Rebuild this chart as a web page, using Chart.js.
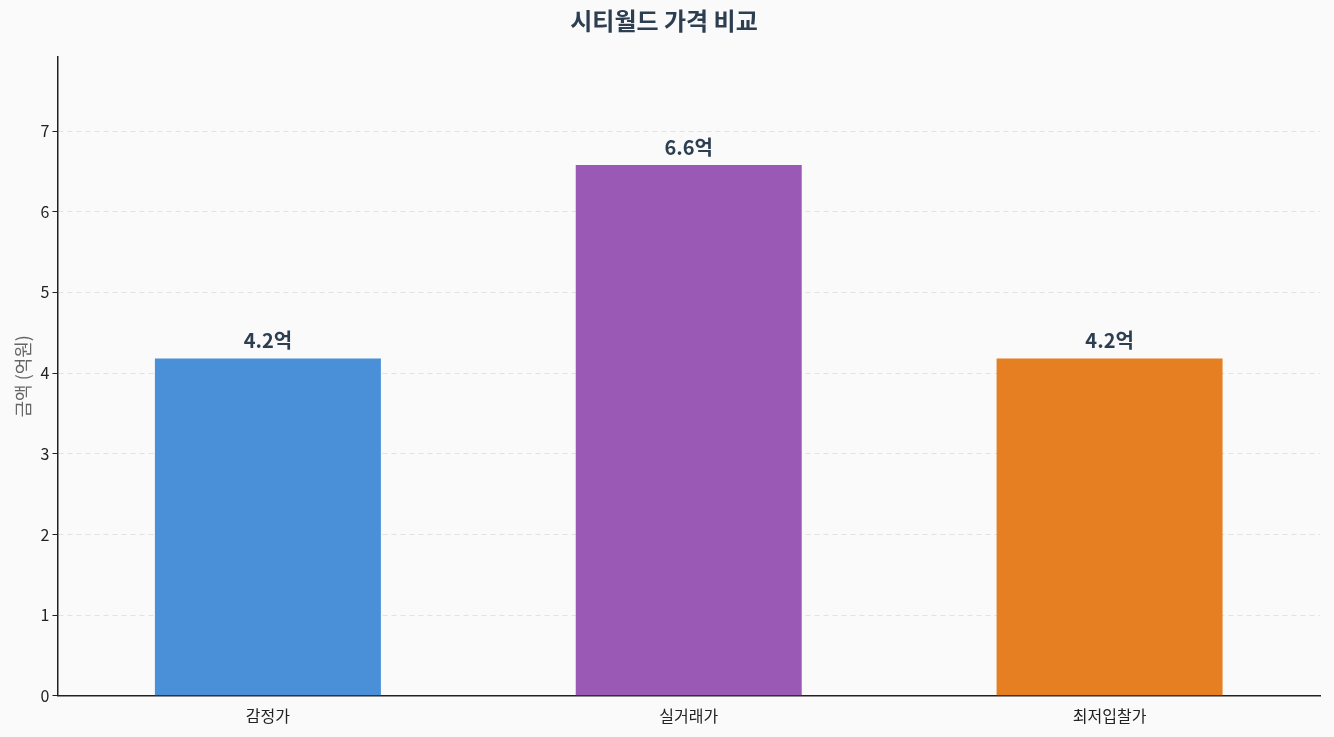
<!DOCTYPE html>
<html><head><meta charset="utf-8">
<script src="https://cdn.jsdelivr.net/npm/chart.js@4"></script>
<style>html,body{margin:0;background:#fafafa;}#w{width:1334px;height:737px;}</style>
</head><body><div id="w"><canvas id="c"></canvas></div>
<script>
const categories = ['감정가','실거래가','최저입찰가'];
const values = [4.18, 6.58, 4.18];
const colors = ['#4a90d9','#9b59b6','#e67e22'];
const yTicks = [0,1,2,3,4,5,6,7];
const FONT = '"Noto Sans CJK KR","Noto Sans",sans-serif';
const labelPlugin = {
  id:'lbl',
  afterDatasetsDraw(chart){
    const ctx = chart.ctx, meta = chart.getDatasetMeta(0);
    ctx.save();
    ctx.font = 'bold 20px '+FONT; ctx.fillStyle='#2c3e50'; ctx.textAlign='center'; ctx.textBaseline='bottom';
    meta.data.forEach((b,i)=>ctx.fillText(values[i].toFixed(1)+'억', b.x, b.y-8));
    ctx.restore();
  }
};
new Chart(document.getElementById('c'),{
  type:'bar',
  data:{labels:categories,datasets:[{data:values,backgroundColor:colors,borderWidth:0,barPercentage:0.537,categoryPercentage:1}]},
  options:{
    responsive:true,maintainAspectRatio:false,animation:false,
    layout:{padding:{left:8,right:14,top:0,bottom:8}},
    plugins:{legend:{display:false},tooltip:{enabled:false},
      title:{display:true,text:'시티월드 가격 비교',color:'#2c3e50',font:{family:FONT,size:24,weight:'bold'},padding:{top:6,bottom:22}}},
    scales:{
      x:{grid:{display:false},border:{color:'#222',width:1.5},ticks:{color:'#222',font:{family:FONT,size:16}}},
      y:{min:0,max:7.92,afterBuildTicks(ax){ax.ticks=yTicks.map(v=>({value:v}));},
        grid:{color:'#e2e2e2',drawTicks:true,tickColor:'#222',tickLength:5},
        border:{color:'#222',width:1.5,dash:[5,4]},
        ticks:{color:'#222',font:{family:FONT,size:16}},
        title:{display:true,text:'금액 (억원)',color:'#666',font:{family:FONT,size:18}}}
    }
  },
  plugins:[labelPlugin]
});
</script></body></html>
